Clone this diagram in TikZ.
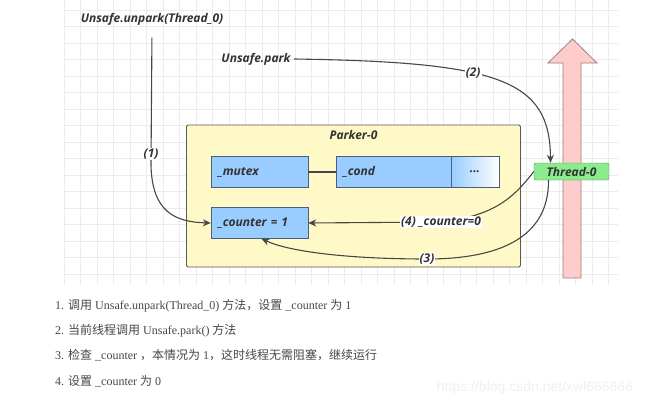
\documentclass[tikz,border=0pt]{standalone}
\usepackage{fontspec}
\setmainfont{Liberation Serif}
\newfontfamily\labelfont{Open Sans}
\newfontfamily\markfont{Liberation Sans}
\newfontfamily\cjk{Noto Sans CJK SC}
\usepackage{xcolor}
\usetikzlibrary{arrows.meta,positioning}

\definecolor{parkerfill}{RGB}{255,249,200}
\definecolor{parkerline}{RGB}{90,90,80}
\definecolor{fieldfill}{RGB}{153,204,255}
\definecolor{fieldline}{RGB}{75,95,125}
\definecolor{threadfill}{RGB}{140,235,140}
\definecolor{threadline}{RGB}{80,140,80}
\definecolor{timefill}{RGB}{255,204,204}
\definecolor{timeline}{RGB}{150,130,130}
\definecolor{ink}{RGB}{51,51,51}
\definecolor{gridgray}{RGB}{236,236,236}

\tikzset{
  lbltext/.style={font=\labelfont\bfseries\itshape\fontsize{12}{14}\selectfont, text=ink},
  field/.style={lbltext, draw=fieldline, fill=fieldfill, minimum height=31pt, inner xsep=7pt, align=left},
  edgelbl/.style={lbltext, fill=white, inner sep=1pt},
  flow/.style={draw=ink!90, line width=1.1pt, -{Stealth[length=8pt,width=7pt]}},
  item/.style={anchor=west, text=ink!90, font=\fontsize{12}{14}\selectfont, inner sep=0pt}
}

\begin{document}
\begin{tikzpicture}[x=1pt,y=-1pt]
    \useasboundingbox (0,0) rectangle (656,407);
    \fill[white] (0,0) rectangle (656,407);

    % Grid
    \foreach \gx in {64,80.5,...,618} \draw[gridgray, line width=0.6pt] (\gx,0) -- (\gx,285);
    \foreach \gy in {10,26.5,...,285} \draw[gridgray, line width=0.6pt] (63,\gy) -- (618,\gy);

    % Calls
    \node[lbltext] (unpark) at (152,19) {Unsafe.unpark(Thread\_0)};
    \node[lbltext] (park) at (256,59) {Unsafe.park};

    % Parker object
    \node[draw=parkerline, line width=0.9pt, fill=parkerfill, rounded corners=2pt,
          minimum width=334pt, minimum height=142pt] (parker) at (353.5,196) {};
    \node[lbltext, below=2pt of parker.north] (title) {Parker-0};
    \node[field, text width=83pt] (mutex) at (259.5,172) {\_mutex};
    \node[field, text width=101pt] (cond) at (393.5,172) {\_cond};
    \node[lbltext, draw=fieldline, left color=fieldfill, right color=white,
          minimum width=48pt, minimum height=31pt] (more) at (475,172) {...};
    \node[field, text width=83pt] (counter) at (259.5,223) {\_counter = 1};
    \draw[ink!90, line width=1.1pt] (mutex) -- (cond);

    % Time line of the thread
    \filldraw[fill=timefill, draw=timeline, line width=0.8pt]
        (563,278) -- (563,63) -- (548,63) -- (572.5,39) -- (597,63) -- (581,63) -- (581,278) -- cycle;
    \node[lbltext, draw=threadline, fill=threadfill, rounded corners=2pt,
          minimum width=75pt, minimum height=17pt, inner sep=1pt] (thread) at (571.5,171.5) {Thread-0};

    % Steps
    \draw[flow, shorten <=9pt] (unpark.south) -- (151,165) node[edgelbl, pos=0.92] {(1)}
        .. controls (152,212) and (175,222) .. (counter.west);
    \draw[flow] (park.east) .. controls (500,62) and (550,80) .. ([xshift=-21pt]thread.north)
        node[edgelbl, pos=0.4] {(2)};
    \draw[flow] ([xshift=-23pt]thread.south) .. controls (549,240) and (495,259) .. (427,259)
        node[edgelbl] {(3)} .. controls (350,259) and (290,252) .. ([xshift=2pt]counter.south);
    \draw[flow] (thread.west) .. controls (512,200) and (492,216) .. (441,222)
        node[edgelbl] {(4) \_counter=0} -- (counter.east);

    % Notes
    \node[item] (note1) at (55,306) {1. {\cjk 调用} Unsafe.unpark(Thread\_0) {\cjk 方法，设置} \_counter {\cjk 为} 1};
    \node[item] (note2) at (55,331) {2. {\cjk 当前线程调用} Unsafe.park() {\cjk 方法}};
    \node[item] (note3) at (55,355) {3. {\cjk 检查} \_counter {\cjk ，本情况为} 1{\cjk ，这时线程无需阻塞，继续运行}};
    \node[item] (note4) at (55,381) {4. {\cjk 设置} \_counter {\cjk 为} 0};

    \node[font=\markfont\fontsize{14}{16}\selectfont, text=gray!12] (mark) at (535,388) {https://blog.csdn.net/xwl666666};
\end{tikzpicture}
\end{document}
